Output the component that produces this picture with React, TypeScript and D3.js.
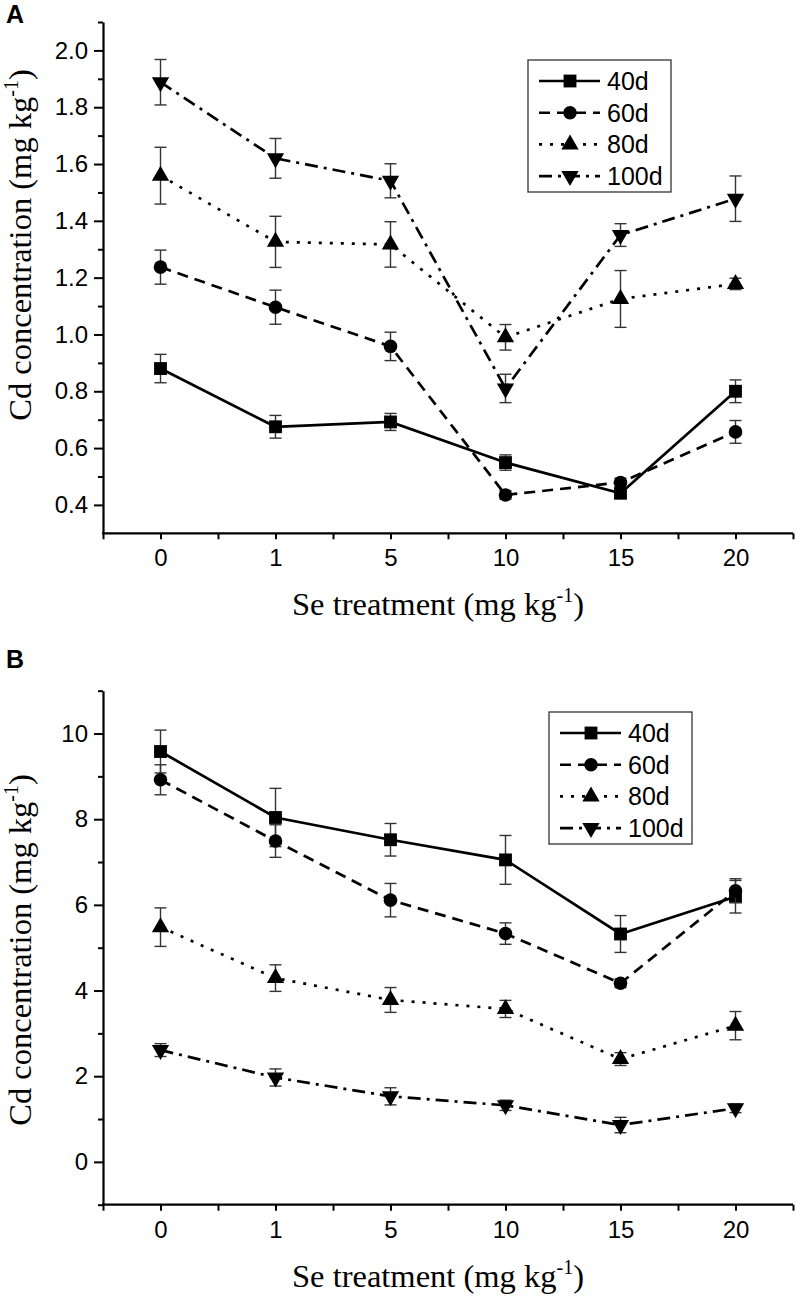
import React, { useEffect, useRef } from "react";
import * as d3 from "d3";

const categories = ["0", "1", "5", "10", "15", "20"];
const seriesNames = ["40d", "60d", "80d", "100d"];

// Panel A
const a40 = [0.88, 0.675, 0.692, 0.549, 0.441, 0.8];
const a40Err = [0.05, 0.04, 0.03, 0.027, 0.015, 0.04];
const a60 = [1.237, 1.096, 0.958, 0.435, 0.479, 0.657];
const a60Err = [0.06, 0.06, 0.05, 0.015, 0.015, 0.04];
const a80 = [1.559, 1.326, 1.317, 0.99, 1.125, 1.178];
const a80Err = [0.1, 0.09, 0.08, 0.045, 0.1, 0.02];
const a100 = [1.888, 1.62, 1.541, 0.81, 1.35, 1.478];
const a100Err = [0.08, 0.07, 0.06, 0.05, 0.04, 0.08];

// Panel B
const b40 = [9.58, 8.04, 7.52, 7.05, 5.32, 6.19];
const b40Err = [0.5, 0.68, 0.38, 0.57, 0.43, 0.38];
const b60 = [8.92, 7.49, 6.11, 5.33, 4.17, 6.33];
const b60Err = [0.35, 0.38, 0.39, 0.25, 0.1, 0.28];
const b80 = [5.48, 4.29, 3.78, 3.57, 2.4, 3.18];
const b80Err = [0.45, 0.31, 0.29, 0.2, 0.15, 0.33];
const b100 = [2.61, 1.97, 1.53, 1.32, 0.86, 1.25];
const b100Err = [0.15, 0.2, 0.2, 0.12, 0.18, 0.1];

const yTicksA = [0.4, 0.6, 0.8, 1.0, 1.2, 1.4, 1.6, 1.8, 2.0];
const yMinorA = [0.5, 0.7, 0.9, 1.1, 1.3, 1.5, 1.7, 1.9, 2.1];
const yTicksB = [0, 2, 4, 6, 8, 10];
const yMinorB = [-1, 1, 3, 5, 7, 9, 11];
const xMinor = [-0.5, 0.5, 1.5, 2.5, 3.5, 4.5, 5.5];

const dashes = [null, "11,7", "3,8", "13,6,3,6"];
const symbols = ["square", "circle", "up", "down"];

const SANS = "'Liberation Sans', Arial, sans-serif";
const SERIF = "'Liberation Serif', 'Times New Roman', serif";
const TICK_FS = 24;
const TITLE_FS = 32.5;

function symbolPath(kind: string) {
  if (kind === "square") return d3.symbol(d3.symbolSquare, 165)();
  if (kind === "circle") return d3.symbol(d3.symbolCircle, 145)();
  return d3.symbol(d3.symbolTriangle, 130)();
}

function drawPanel(svg: any, cfg: any) {
  const { top, bottom, left, right, domain, major, minor, fmt, series, errs, legend, letter, letterY, ytitleY } = cfg;
  const g = svg.append("g");
  const x = d3.scalePoint().domain(categories).range([left, right]).padding(0.5);
  const xIdx = d3.scaleLinear().domain([-0.5, 5.5]).range([left, right]);
  const y = d3.scaleLinear().domain(domain).range([bottom, top]);

  // y axis
  const yAxis = g.append("g").attr("transform", `translate(${left},0)`)
    .call(d3.axisLeft(y).tickValues(major).tickSize(9).tickSizeOuter(0).tickPadding(6).tickFormat(fmt));
  yAxis.select(".domain").attr("stroke-width", 2.2);
  yAxis.selectAll(".tick line").attr("stroke-width", 2);
  yAxis.selectAll("text").attr("font-family", SANS).attr("font-size", TICK_FS).attr("fill", "#000");
  const yMin = g.append("g").attr("transform", `translate(${left},0)`)
    .call(d3.axisLeft(y).tickValues(minor).tickSize(5).tickSizeOuter(0).tickFormat(() => ""));
  yMin.select(".domain").remove();
  yMin.selectAll(".tick line").attr("stroke-width", 2);

  // x axis
  const xAxis = g.append("g").attr("transform", `translate(0,${bottom})`)
    .call(d3.axisBottom(x).tickSize(6).tickSizeOuter(0).tickPadding(10));
  xAxis.select(".domain").attr("stroke-width", 2.2).attr("d", `M${left - 1},0H${right}`);
  xAxis.selectAll(".tick line").attr("stroke-width", 2);
  xAxis.selectAll("text").attr("font-family", SANS).attr("font-size", TICK_FS).attr("fill", "#000");
  const xMin = g.append("g").attr("transform", `translate(0,${bottom})`)
    .call(d3.axisBottom(xIdx).tickValues(xMinor).tickSize(6).tickSizeOuter(0).tickFormat(() => ""));
  xMin.select(".domain").remove();
  xMin.selectAll(".tick line").attr("stroke-width", 2);

  // titles
  const xt = g.append("text").attr("x", 438).attr("y", bottom + 82)
    .attr("text-anchor", "middle").attr("font-family", SERIF).attr("font-size", TITLE_FS).attr("fill", "#000");
  xt.append("tspan").text("Se treatment (mg kg");
  xt.append("tspan").attr("dy", -13).attr("font-size", 20).text("-1");
  xt.append("tspan").attr("dy", 13).text(")");

  const yt = g.append("text").attr("transform", `translate(31,${ytitleY}) rotate(-90)`)
    .attr("text-anchor", "middle").attr("font-family", SERIF).attr("font-size", TITLE_FS).attr("fill", "#000");
  yt.append("tspan").text("Cd concentration (mg kg");
  yt.append("tspan").attr("dy", -13).attr("font-size", 20).text("-1");
  yt.append("tspan").attr("dy", 13).text(")");

  g.append("text").attr("x", 6).attr("y", letterY).attr("font-family", SANS).attr("font-weight", "bold")
    .attr("font-size", 25).attr("fill", "#000").text(letter);

  const line = d3.line<number>().x((_, i) => x(categories[i]) as number).y((d) => y(d));

  series.forEach((vals: number[], si: number) => {
    const err = errs[si];
    const sg = g.append("g");
    vals.forEach((v, i) => {
      const cx = x(categories[i]) as number;
      const eg = sg.append("g").attr("stroke", "#333").attr("stroke-width", 1.4);
      eg.append("line").attr("x1", cx).attr("x2", cx).attr("y1", y(v - err[i])).attr("y2", y(v + err[i]));
      eg.append("line").attr("x1", cx - 6).attr("x2", cx + 6).attr("y1", y(v - err[i])).attr("y2", y(v - err[i]));
      eg.append("line").attr("x1", cx - 6).attr("x2", cx + 6).attr("y1", y(v + err[i])).attr("y2", y(v + err[i]));
    });
    const p = sg.append("path").attr("d", line(vals)).attr("fill", "none").attr("stroke", "#000")
      .attr("stroke-width", 2.7);
    if (dashes[si]) p.attr("stroke-dasharray", dashes[si]);
    vals.forEach((v, i) => {
      const cx = x(categories[i]) as number;
      const rot = symbols[si] === "down" ? " rotate(180)" : "";
      sg.append("path").attr("d", symbolPath(symbols[si]))
        .attr("transform", `translate(${cx},${y(v)})${rot}`).attr("fill", "#000");
    });
  });

  // legend
  const { lx, ly, lw, lh } = legend;
  const lg = g.append("g");
  lg.append("rect").attr("x", lx).attr("y", ly).attr("width", lw).attr("height", lh)
    .attr("fill", "#fff").attr("stroke", "#333").attr("stroke-width", 1.3);
  seriesNames.forEach((name, si) => {
    const ry = ly + 21 + si * 31.7;
    const l = lg.append("line").attr("x1", lx + 11).attr("x2", lx + 72).attr("y1", ry).attr("y2", ry)
      .attr("stroke", "#000").attr("stroke-width", 2.6);
    if (dashes[si]) l.attr("stroke-dasharray", dashes[si]);
    const rot = symbols[si] === "down" ? " rotate(180)" : "";
    lg.append("path").attr("d", symbolPath(symbols[si])).attr("fill", "#000")
      .attr("transform", `translate(${lx + 42},${ry})${rot}`);
    lg.append("text").attr("x", lx + 79).attr("y", ry).attr("dy", "0.36em").attr("font-family", SANS)
      .attr("font-size", 25).attr("fill", "#000").text(name);
  });
}

export default function App() {
  const ref = useRef<SVGSVGElement>(null);
  useEffect(() => {
    const svg = d3.select(ref.current);
    svg.selectAll("*").remove();
    drawPanel(svg, {
      top: 22, bottom: 533.3, left: 103, right: 793, domain: [0.3, 2.1],
      major: yTicksA, minor: yMinorA, fmt: d3.format(".1f"),
      series: [a40, a60, a80, a100], errs: [a40Err, a60Err, a80Err, a100Err],
      legend: { lx: 528, ly: 60, lw: 143, lh: 132 }, letter: "A", letterY: 23, ytitleY: 245,
    });
    drawPanel(svg, {
      top: 690.7, bottom: 1204.7, left: 103, right: 793, domain: [-1, 11],
      major: yTicksB, minor: yMinorB, fmt: d3.format("d"),
      series: [b40, b60, b80, b100], errs: [b40Err, b60Err, b80Err, b100Err],
      legend: { lx: 549, ly: 712, lw: 143, lh: 132 }, letter: "B", letterY: 668, ytitleY: 950,
    });
  }, []);
  return (
    <svg ref={ref} width={800} height={1298}
      style={{ position: "absolute", left: 0, top: 0, background: "#fff" }} />
  );
}
